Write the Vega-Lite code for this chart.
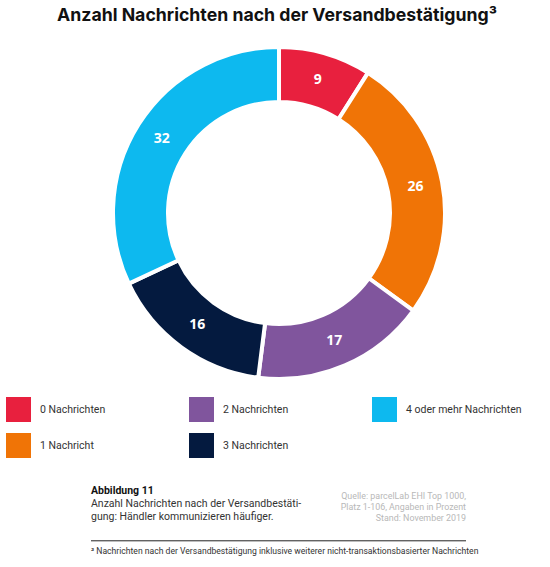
{
  "$schema": "https://vega.github.io/schema/vega-lite/v6.json",
  "background": "white",
  "padding": {"left": 6, "top": 7, "right": 0, "bottom": 0},
  "config": {"view": {"stroke": null}},
  "spacing": 94,
  "vconcat": [
    {
      "width": 544,
      "height": 330,
      "title": {
        "text": "Anzahl Nachrichten nach der Versandbestätigung³",
        "font": "Inter",
        "fontSize": 17.7,
        "fontWeight": "bold",
        "color": "#111111",
        "anchor": "middle",
        "dx": -2,
        "offset": 14
      },
      "data": {
        "values": [
          {"label": "0 Nachrichten", "k": 0, "value": 9},
          {"label": "1 Nachricht", "k": 1, "value": 26},
          {"label": "2 Nachrichten", "k": 2, "value": 17},
          {"label": "3 Nachrichten", "k": 3, "value": 16},
          {"label": "4 oder mehr Nachrichten", "k": 4, "value": 32}
        ]
      },
      "encoding": {
        "theta": {"field": "value", "type": "quantitative", "stack": true},
        "order": {"field": "k", "type": "quantitative"}
      },
      "layer": [
        {
          "mark": {"type": "arc", "outerRadius": 166, "innerRadius": 111, "stroke": "white", "strokeWidth": 4},
          "encoding": {
            "color": {
              "field": "label",
              "type": "nominal",
              "scale": {
                "domain": ["0 Nachrichten", "2 Nachrichten", "4 oder mehr Nachrichten", "1 Nachricht", "3 Nachrichten"],
                "range": ["#E8203E", "#80559D", "#0DB9EF", "#F07406", "#041A3F"]
              },
              "legend": {
                "orient": "none",
                "legendX": -1,
                "legendY": 349,
                "direction": "horizontal",
                "columns": 3,
                "title": null,
                "padding": 0,
                "symbolType": "square",
                "symbolSize": 625,
                "symbolStrokeWidth": 0,
                "symbolOpacity": 1,
                "labelFont": "Roboto",
                "labelFontSize": 10.5,
                "labelColor": "#333333",
                "labelOffset": 9,
                "rowPadding": 11,
                "columnPadding": 83
              }
            }
          }
        },
        {
          "mark": {"type": "text", "radius": 139, "font": "Open Sans", "fontSize": 14, "fontWeight": "bold", "color": "white"},
          "encoding": {
            "text": {"field": "value", "type": "quantitative"}
          }
        }
      ]
    },
    {
      "width": 544,
      "height": 78,
      "data": {
        "values": [
          {"role": "head", "side": "left", "line": 1, "text": "Abbildung 11"},
          {"role": "body", "side": "left", "line": 2, "text": "Anzahl Nachrichten nach der Versandbestäti-\ngung: Händler kommunizieren häufiger."},
          {"role": "source", "side": "right", "line": 1, "text": "Quelle: parcelLab EHI Top 1000,\nPlatz 1-106, Angaben in Prozent\nStand: November 2019"},
          {"role": "rule", "side": "left", "line": 4.6, "text": ""},
          {"role": "note", "side": "left", "line": 5.6, "text": "³ Nachrichten nach der Versandbestätigung inklusive weiterer nicht-transaktionsbasierter Nachrichten"}
        ]
      },
      "encoding": {
        "x": {"field": "side", "type": "nominal", "scale": {"type": "point", "domain": ["left", "right"], "range": [84, 459], "padding": 0}, "axis": null},
        "y": {"field": "line", "type": "quantitative", "scale": {"domain": [0, 6], "reverse": true, "nice": false, "zero": false}, "axis": null}
      },
      "layer": [
        {
          "transform": [{"filter": "datum.role === 'head'"}],
          "mark": {"type": "text", "align": "left", "baseline": "alphabetic", "font": "Roboto", "fontSize": 10.5, "fontWeight": "bold", "color": "#111111"},
          "encoding": {"text": {"field": "text"}}
        },
        {
          "transform": [{"filter": "datum.role === 'body'"}],
          "mark": {"type": "text", "align": "left", "baseline": "alphabetic", "font": "Roboto", "fontSize": 10.5, "color": "#333333", "lineBreak": "\n", "lineHeight": 13},
          "encoding": {"text": {"field": "text"}}
        },
        {
          "transform": [{"filter": "datum.role === 'source'"}],
          "mark": {"type": "text", "align": "right", "baseline": "alphabetic", "dy": 5, "font": "Roboto", "fontSize": 8.9, "color": "#b8b8b8", "lineBreak": "\n", "lineHeight": 11},
          "encoding": {"text": {"field": "text"}}
        },
        {
          "transform": [{"filter": "datum.role === 'rule'"}],
          "mark": {"type": "rule", "color": "#222222", "strokeWidth": 1},
          "encoding": {"x2": {"datum": "right"}}
        },
        {
          "transform": [{"filter": "datum.role === 'note'"}],
          "mark": {"type": "text", "align": "left", "baseline": "alphabetic", "font": "Roboto", "fontSize": 8.6, "color": "#333333"},
          "encoding": {"text": {"field": "text"}}
        }
      ]
    }
  ]
}
